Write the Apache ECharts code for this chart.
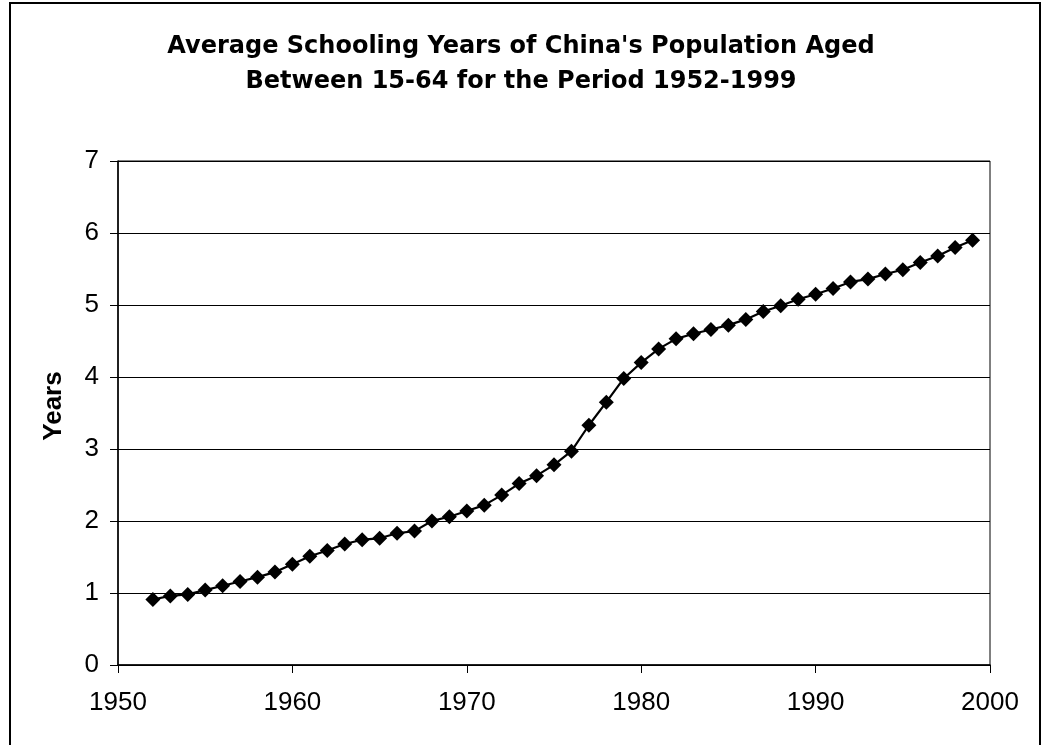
<!DOCTYPE html>
<html>
<head>
<meta charset="utf-8">
<script src="https://cdn.jsdelivr.net/npm/echarts@6/dist/echarts.min.js"></script>
<style>
  html, body { margin: 0; padding: 0; background: #fff; }
  #chart { width: 1042px; height: 745px; }
</style>
</head>
<body>
<div id="chart"></div>
<script>
// years and average schooling years
const years = [1952, 1953, 1954, 1955, 1956, 1957, 1958, 1959, 1960, 1961,
  1962, 1963, 1964, 1965, 1966, 1967, 1968, 1969, 1970, 1971,
  1972, 1973, 1974, 1975, 1976, 1977, 1978, 1979, 1980, 1981,
  1982, 1983, 1984, 1985, 1986, 1987, 1988, 1989, 1990, 1991,
  1992, 1993, 1994, 1995, 1996, 1997, 1998, 1999]
const schooling = [0.91, 0.96, 0.98, 1.04, 1.10, 1.16, 1.22, 1.29, 1.40, 1.51,
  1.59, 1.68, 1.74, 1.76, 1.83, 1.86, 2.00, 2.06, 2.14, 2.22,
  2.36, 2.52, 2.63, 2.78, 2.97, 3.33, 3.65, 3.98, 4.20, 4.39,
  4.53, 4.60, 4.66, 4.72, 4.80, 4.91, 4.99, 5.08, 5.15, 5.23,
  5.32, 5.36, 5.43, 5.49, 5.59, 5.68, 5.80, 5.90]
const titleLines = ["Average Schooling Years of China's Population Aged",
  'Between 15-64 for the Period 1952-1999']

const chart = echarts.init(document.getElementById('chart'))

const option = {
  backgroundColor: '#fff',
  animation: false,
  textStyle: { fontFamily: 'Liberation Sans, Arial, sans-serif' },
  title: {
    text: titleLines.join('\n'),
    left: 'center',
    top: 24,
    textStyle: {
      fontSize: 24, fontWeight: 'bold', color: '#000', lineHeight: 35,
      fontFamily: 'DejaVu Sans, sans-serif'
    }
  },
  graphic: [
    {
      type: 'rect',
      shape: { x: 10, y: 3, width: 1030, height: 760 },
      style: { fill: 'none', stroke: '#000', lineWidth: 2 }
    },
    {
      type: 'text',
      x: 54, y: 406,
      rotation: Math.PI / 2,
      style: {
        text: 'Years',
        fontSize: 26, fontWeight: 'bold', fill: '#000',
        fontFamily: 'Liberation Sans, Arial, sans-serif',
        align: 'center', verticalAlign: 'middle'
      }
    }
  ],
  grid: {
    left: 118, top: 161, width: 872, height: 504,
    show: true, borderColor: '#000', borderWidth: 1
  },
  xAxis: {
    type: 'value',
    min: 1950, max: 2000, interval: 10,
    axisLine: { lineStyle: { color: '#000', width: 1.5 } },
    axisTick: { show: true, length: 8, lineStyle: { color: '#000' } },
    axisLabel: { color: '#000', fontSize: 26, margin: 25, formatter: v => String(v) },
    splitLine: { show: false }
  },
  yAxis: {
    type: 'value',
    min: 0, max: 7, interval: 1,
    axisLine: { show: true, lineStyle: { color: '#000', width: 1.5 } },
    axisTick: { show: true, length: 8, lineStyle: { color: '#000' } },
    axisLabel: { color: '#000', fontSize: 26, margin: 19 },
    splitLine: { show: true, lineStyle: { color: '#000', width: 1 } }
  },
  series: [{
    type: 'line',
    data: years.map((y, i) => [y, schooling[i]]),
    symbol: 'diamond',
    symbolSize: 15,
    itemStyle: { color: '#000' },
    lineStyle: { color: '#000', width: 2.2 }
  }]
}

chart.setOption(option)
</script>
</body>
</html>
